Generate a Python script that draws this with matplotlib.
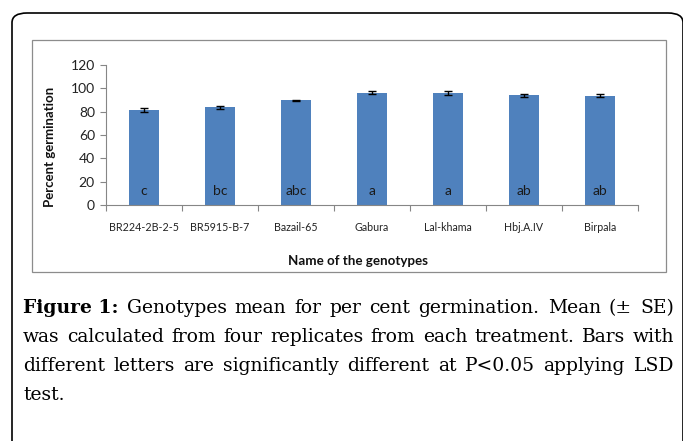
import numpy as np
import matplotlib
matplotlib.use("Agg")
import matplotlib.pyplot as plt
from matplotlib.patches import FancyBboxPatch, Rectangle

# ---------- data ----------
genotypes = ["BR224-2B-2-5", "BR5915-B-7", "Bazail-65", "Gabura",
             "Lal-khama", "Hbj.A.IV", "Birpala"]
means = [81.2, 83.6, 89.6, 96.1, 96.2, 94.0, 93.7]
se = [1.9, 1.4, 0.7, 1.2, 1.7, 1.4, 1.1]
letters = ["c", "bc", "abc", "a", "a", "ab", "ab"]
yticks = [0, 20, 40, 60, 80, 100, 120]

caption_lines = [
    [("Figure 1:", True), ("Genotypes", False), ("mean", False), ("for", False),
     ("per", False), ("cent", False), ("germination.", False), ("Mean", False),
     ("(±", False), ("SE)", False)],
    [(w, False) for w in "was calculated from four replicates from each treatment. Bars with".split()],
    [(w, False) for w in "different letters are significantly different at P<0.05 applying LSD".split()],
    [(w, False) for w in "test.".split()],
]

# ---------- style ----------
W, H, DPI = 683, 441, 100
BAR_COLOR = '#4F81BD'
AXIS_GREY = '#868686'
CHART_FONT = 'Lato'
CAPTION_FONT = 'DejaVu Serif'


def fx(x):
    return x / W


def fy(y):
    return 1 - y / H


fig = plt.figure(figsize=(W / DPI, H / DPI), dpi=DPI)
fig.patch.set_facecolor('white')

# outer rounded frame
frame = FancyBboxPatch((fx(12), fy(600)), fx(671), fy(13) - fy(600),
                       boxstyle="round,pad=0,rounding_size=0.022",
                       transform=fig.transFigure, fill=False,
                       edgecolor='black', lw=1.2, zorder=0)
fig.patches.append(frame)

# inner chart box
fig.patches.append(Rectangle((fx(32), fy(271.5)), fx(666) - fx(32), fy(40) - fy(271.5),
                             transform=fig.transFigure, fill=False,
                             edgecolor='#8c8c8c', lw=0.9, zorder=0))

# ---------- axes ----------
ax = fig.add_axes([fx(106), fy(205), fx(638) - fx(106), fy(65) - fy(205)])
x = np.arange(len(genotypes))
ax.bar(x, means, width=0.4, color=BAR_COLOR, edgecolor='none', zorder=2)
ax.errorbar(x, means, yerr=se, fmt='none', ecolor='black', elinewidth=1.0,
            capsize=3, capthick=1.0, zorder=3)

for xi, lab in zip(x, letters):
    ax.text(xi, 12.3, lab, ha='center', va='center', fontsize=10,
            family=CHART_FONT, color='#1a1a1a', zorder=4)

ax.set_xlim(-0.5, len(genotypes) - 0.5)
ax.set_ylim(0, 120)
ax.set_yticks(yticks)
ax.set_yticklabels([str(v) for v in yticks], fontsize=10, family=CHART_FONT, color='#222222')
ax.set_xticks(x)
ax.set_xticklabels(genotypes, fontsize=7.7, family=CHART_FONT, color='#222222')
ax.set_xticks(np.arange(-0.5, len(genotypes)), minor=True)
ax.tick_params(axis='x', which='major', length=0, pad=12)
ax.tick_params(axis='x', which='minor', length=4, color=AXIS_GREY, width=0.8, direction='out')
ax.tick_params(axis='y', which='major', length=4, color=AXIS_GREY, width=0.8, pad=4)

for s in ['top', 'right']:
    ax.spines[s].set_visible(False)
for s in ['left', 'bottom']:
    ax.spines[s].set_color(AXIS_GREY)
    ax.spines[s].set_linewidth(0.8)
ax.set_facecolor('none')

fig.text(fx(50), fy(147), "Percent germination", rotation=90, ha='center', va='center',
         fontsize=9.5, fontweight='bold', family=CHART_FONT, color='#111111')
fig.text(fx(358), fy(261), "Name of the genotypes", ha='center', va='center',
         fontsize=9.6, fontweight='bold', family=CHART_FONT, color='#111111')

# ---------- caption (justified) ----------
CAP_SIZE = 13.5
LEFT, RIGHT = 23, 674
baselines = [313, 342, 371, 400]
renderer = fig.canvas.get_renderer()

for i, (words, base) in enumerate(zip(caption_lines, baselines)):
    texts = []
    for w, bold in words:
        t = fig.text(0, fy(base), w, fontsize=CAP_SIZE, family=CAPTION_FONT,
                     fontweight='bold' if bold else 'normal', va='baseline', ha='left',
                     color='black')
        texts.append(t)
    widths = [t.get_window_extent(renderer).width for t in texts]
    last = (i == len(caption_lines) - 1)
    if last or len(texts) == 1:
        gap = 5.5
    else:
        gap = (RIGHT - LEFT - sum(widths)) / (len(texts) - 1)
    xpos = LEFT
    for t, wd in zip(texts, widths):
        t.set_x(fx(xpos))
        xpos += wd + gap

fig.savefig("out.png", dpi=DPI, facecolor='white')
